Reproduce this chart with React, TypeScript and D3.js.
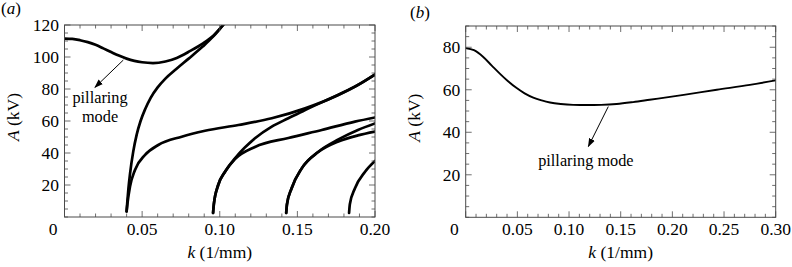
import React from "react";
import * as d3 from "d3";

// ---------- data ----------
// panel (a): k (1/mm) vs A (kV)
const pillaringA: [number, number][] = [
  [0, 111.5], [0.005, 111.3], [0.01, 110.5], [0.015, 109.3], [0.02, 107.6], [0.025, 105.4], [0.03, 103.1],
  [0.035, 100.9], [0.04, 99], [0.045, 97.6], [0.05, 96.7], [0.057, 96.2], [0.065, 97.2], [0.0723, 99.4],
  [0.081, 103.8], [0.089, 108.4], [0.096, 113.5], [0.103, 121],
];
const steepA: [number, number][] = [
  [0.04, 3.5], [0.0405, 10], [0.0412, 18], [0.0422, 27], [0.0443, 41], [0.0465, 51.5], [0.049, 60],
  [0.052, 67.5], [0.0555, 74.5], [0.06, 81], [0.065, 86.5], [0.072, 92.5], [0.08, 99], [0.089, 106.5],
  [0.096, 113], [0.103, 121],
];
const plateauA: [number, number][] = [
  [0.04, 3.5], [0.0405, 8], [0.0422, 19], [0.0454, 29.4], [0.0519, 38.8], [0.0604, 45], [0.0755, 50.2],
  [0.0905, 53.9], [0.112, 57.5], [0.1335, 61.7], [0.155, 67.9], [0.1764, 76.2], [0.189, 82.5], [0.2, 89],
];
const branch2UpperA: [number, number][] = [
  [0.0957, 2.5], [0.0962, 8], [0.099, 20], [0.1034, 28.3], [0.1098, 36.7], [0.1227, 49.2], [0.1335, 56.5],
  [0.1442, 61.7], [0.155, 66.9], [0.1764, 76.4], [0.189, 82.6], [0.2, 89.2],
];
const branch2LowerA: [number, number][] = [
  [0.0957, 2.5], [0.0962, 8], [0.099, 20], [0.1034, 28.3], [0.1098, 36.2], [0.1227, 43.8], [0.1442, 49.4],
  [0.1657, 54.4], [0.1871, 59.6], [0.2, 62.2],
];
const branch3UpperA: [number, number][] = [
  [0.1428, 2.5], [0.1433, 8], [0.1463, 18], [0.1528, 30.4], [0.1635, 40.8], [0.1764, 48.5], [0.189, 54.4], [0.2, 58.5],
];
const branch3LowerA: [number, number][] = [
  [0.1428, 2.5], [0.1433, 8], [0.1463, 18], [0.1528, 30.4], [0.1635, 40.6], [0.1764, 47.2], [0.189, 51], [0.2, 53.4],
];
const branch4A: [number, number][] = [
  [0.1833, 2.5], [0.1838, 8], [0.1871, 18], [0.1936, 28.3], [0.2, 35],
];
const curvesA = [pillaringA, steepA, plateauA, branch2UpperA, branch2LowerA, branch3UpperA, branch3LowerA, branch4A];

// panel (b)
const curveB: [number, number][] = [
  [0, 79.6], [0.008, 78.6], [0.017, 75.4], [0.025, 71.5], [0.033, 67.6], [0.041, 64], [0.049, 60.9],
  [0.057, 58.3], [0.0654, 56.3], [0.0735, 55], [0.0816, 54], [0.092, 53.3], [0.104, 52.9], [0.117, 52.8],
  [0.131, 52.9], [0.146, 53.3], [0.162, 54.2], [0.178, 55.3], [0.211, 57.6], [0.243, 60], [0.275, 62.3], [0.3, 64.4],
];

const xTicksA = [0, 0.05, 0.1, 0.15, 0.2];
const xTickLabelsA = ["0", "0.05", "0.10", "0.15", "0.20"];
const yTicksA = [20, 40, 60, 80, 100, 120];
const xTicksB = [0, 0.05, 0.1, 0.15, 0.2, 0.25, 0.3];
const xTickLabelsB = ["0", "0.05", "0.10", "0.15", "0.20", "0.25", "0.30"];
const yTicksB = [20, 40, 60, 80];

// annotation anchors (data coords): arrow start, arrow end, text
const annotA = { from: [0.0379, 98.1], to: [0.0196, 81], lines: ["pillaring", "mode"], text: [0.0229, 71] };
const annotB = { from: [0.138, 52.1], to: [0.1187, 33.3], lines: ["pillaring mode"], text: [0.1163, 24.3] };

const FONT = "Liberation Serif";

type PanelProps = {
  id: string;
  left: number; right: number; top: number; bottom: number;
  xDomain: [number, number]; yDomain: [number, number];
  xTicks: number[]; xTickLabels: string[]; yTicks: number[];
  xMinorStep: number; yMinorStep: number;
  curves: [number, number][][];
  strokeWidth: number;
  annot: { from: number[]; to: number[]; lines: string[]; text: number[] };
  panelLabel: string; panelLabelX: number; panelLabelY: number;
};

function Panel(p: PanelProps) {
  const x = d3.scaleLinear().domain(p.xDomain).range([p.left, p.right]);
  const y = d3.scaleLinear().domain(p.yDomain).range([p.bottom, p.top]);
  const line = d3
    .line<[number, number]>()
    .x((d) => x(d[0]))
    .y((d) => y(d[1]))
    .curve(d3.curveMonotoneX);
  const xMinor = d3.range(p.xDomain[0], p.xDomain[1] + 1e-9, p.xMinorStep);
  const yMinor = d3.range(p.yDomain[0], p.yDomain[1] + 1e-9, p.yMinorStep);
  const isMajor = (v: number, arr: number[]) => arr.some((t) => Math.abs(t - v) < 1e-9);
  const frame = "#4a4a4a";
  const tickEls: React.ReactNode[] = [];
  xMinor.forEach((v, i) => {
    const L = isMajor(v, p.xTicks) ? 6 : 3.5;
    const xx = x(v);
    tickEls.push(<line key={"xb" + i} x1={xx} x2={xx} y1={p.bottom} y2={p.bottom - L} stroke={frame} strokeWidth={0.8} />);
    tickEls.push(<line key={"xt" + i} x1={xx} x2={xx} y1={p.top} y2={p.top + L} stroke={frame} strokeWidth={0.8} />);
  });
  yMinor.forEach((v, i) => {
    const L = isMajor(v, p.yTicks) ? 6 : 3.5;
    const yy = y(v);
    tickEls.push(<line key={"yl" + i} x1={p.left} x2={p.left + L} y1={yy} y2={yy} stroke={frame} strokeWidth={0.8} />);
    tickEls.push(<line key={"yr" + i} x1={p.right} x2={p.right - L} y1={yy} y2={yy} stroke={frame} strokeWidth={0.8} />);
  });
  const cx = (p.left + p.right) / 2;
  const cy = (p.top + p.bottom) / 2;
  return (
    <g fill="#000">
      <defs>
        <clipPath id={"clip-" + p.id}>
          <rect x={p.left} y={p.top} width={p.right - p.left} height={p.bottom - p.top} />
        </clipPath>
        <marker id={"arrow-" + p.id} viewBox="0 0 10 10" refX={9} refY={5} markerWidth={9} markerHeight={9} markerUnits="userSpaceOnUse" orient="auto">
          <path d="M0,1.5 L10,5 L0,8.5 Z" fill="#000" />
        </marker>
      </defs>
      <g clipPath={`url(#clip-${p.id})`}>
        {p.curves.map((c, i) => (
          <path key={i} d={line(c) || ""} fill="none" stroke="#000" strokeWidth={p.strokeWidth} strokeLinecap="round" />
        ))}
      </g>
      {tickEls}
      <rect x={p.left} y={p.top} width={p.right - p.left} height={p.bottom - p.top} fill="none" stroke={frame} strokeWidth={1} />
      {p.xTicks.map((t, i) => (
        <text
          key={"xl" + i}
          x={i === 0 ? x(t) - 7 : x(t)}
          y={p.bottom + 18}
          fontFamily={FONT}
          fontSize={17.5}
          textAnchor={i === 0 ? "end" : "middle"}
        >
          {p.xTickLabels[i]}
        </text>
      ))}
      {p.yTicks.map((t, i) => (
        <text key={"yl" + i} x={p.left - 5.5} y={y(t) + 6} fontFamily={FONT} fontSize={17.5} textAnchor="end">
          {t}
        </text>
      ))}
      <text x={cx} y={p.bottom + 41} fontFamily={FONT} fontSize={17.5} textAnchor="middle">
        <tspan fontStyle="italic">k</tspan> (1/mm)
      </text>
      <text transform={`translate(${p.left - 46},${cy - 4}) rotate(-90)`} fontFamily={FONT} fontSize={17.5} textAnchor="middle">
        <tspan fontStyle="italic">A</tspan> (kV)
      </text>
      <text x={p.panelLabelX} y={p.panelLabelY} fontFamily={FONT} fontSize={17}>
        (<tspan fontStyle="italic">{p.panelLabel}</tspan>)
      </text>
      <line
        x1={x(p.annot.from[0])}
        y1={y(p.annot.from[1])}
        x2={x(p.annot.to[0])}
        y2={y(p.annot.to[1])}
        stroke="#000"
        strokeWidth={1}
        markerEnd={`url(#arrow-${p.id})`}
      />
      {p.annot.lines.map((s, i) => (
        <text
          key={"an" + i}
          x={x(p.annot.text[0])}
          y={y(p.annot.text[1]) + i * 18.5}
          fontFamily={FONT}
          fontSize={16.3}
          textAnchor="middle"
        >
          {s}
        </text>
      ))}
    </g>
  );
}

export default function App() {
  return (
    <svg width={792} height={267} style={{ position: "absolute", left: 0, top: 0, background: "#fff" }}>
      <rect width={792} height={267} fill="#fff" />
      <Panel
        id="a"
        left={64.5} right={375} top={25} bottom={217}
        xDomain={[0, 0.2]} yDomain={[0, 120]}
        xTicks={xTicksA} xTickLabels={xTickLabelsA} yTicks={yTicksA}
        xMinorStep={0.01} yMinorStep={5}
        curves={curvesA} strokeWidth={2.7}
        annot={annotA}
        panelLabel="a" panelLabelX={1} panelLabelY={14}
      />
      <Panel
        id="b"
        left={465.7} right={775.7} top={26} bottom={217.3}
        xDomain={[0, 0.3]} yDomain={[0, 90]}
        xTicks={xTicksB} xTickLabels={xTickLabelsB} yTicks={yTicksB}
        xMinorStep={0.01} yMinorStep={5}
        curves={[curveB]} strokeWidth={1.9}
        annot={annotB}
        panelLabel="b" panelLabelX={410} panelLabelY={18}
      />
    </svg>
  );
}
